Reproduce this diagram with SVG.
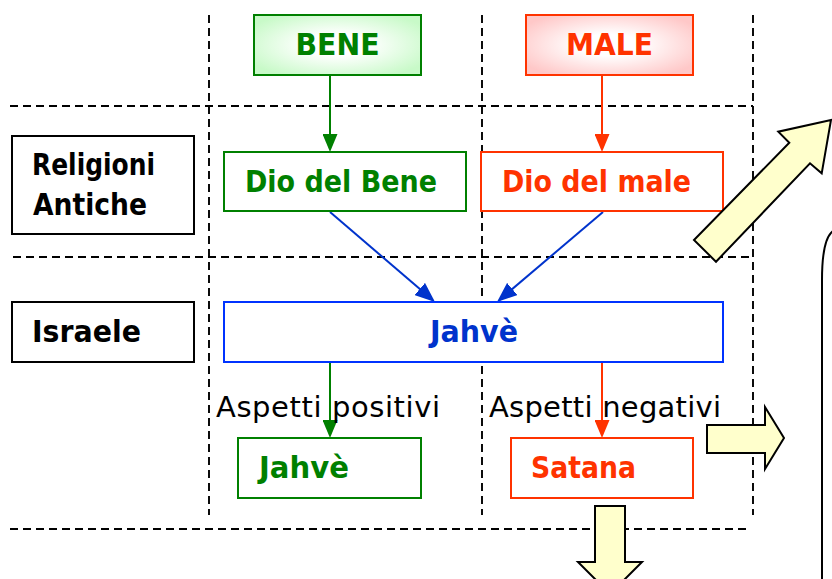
<svg xmlns="http://www.w3.org/2000/svg" width="832" height="579" viewBox="0 0 832 579">
  <style>
    .grid { stroke: #000; stroke-width: 1.9; stroke-dasharray: 8 5; fill: none; }
    .box { fill: #fff; stroke-width: 2; }
    .g { stroke: #008000; }
    .r { stroke: #FF3300; }
    .b { stroke: #0033FF; }
    .k { stroke: #000; }
    .t { font-family: "DejaVu Sans", "Liberation Sans", sans-serif; font-weight: bold; font-size: 30px; }
    .lbl { font-family: "DejaVu Sans", "Liberation Sans", sans-serif; font-size: 29px; fill: #000; }
    .big { fill: #FFFFCC; stroke: #000; stroke-width: 2; stroke-linejoin: miter; }
    .conn { fill: none; stroke-width: 2; }
  </style>
  <defs>
    <radialGradient id="gGreen" cx="50%" cy="50%" r="60%">
      <stop offset="0.3" stop-color="#FFFFFF"/>
      <stop offset="1" stop-color="#C8FAC8"/>
    </radialGradient>
    <radialGradient id="gRed" cx="50%" cy="50%" r="60%">
      <stop offset="0.3" stop-color="#FFFFFF"/>
      <stop offset="1" stop-color="#FFC8C8"/>
    </radialGradient>
    <marker id="mG" markerUnits="userSpaceOnUse" markerWidth="18" markerHeight="15" refX="15" refY="7.5" orient="auto">
      <path d="M0,0 L18,7.5 L0,15 Z" fill="#008000"/>
    </marker>
    <marker id="mR" markerUnits="userSpaceOnUse" markerWidth="18" markerHeight="15" refX="15" refY="7.5" orient="auto">
      <path d="M0,0 L18,7.5 L0,15 Z" fill="#FF3300"/>
    </marker>
    <marker id="mB" markerUnits="userSpaceOnUse" markerWidth="20" markerHeight="16" refX="17" refY="8" orient="auto">
      <path d="M0,0 L20,8 L0,16 Z" fill="#0033CC"/>
    </marker>
  </defs>

  <rect width="832" height="579" fill="#fff"/>

  <g id="grid">
    <line class="grid" x1="209" y1="15" x2="209" y2="515"/>
    <line class="grid" x1="482" y1="15" x2="482" y2="515"/>
    <line class="grid" x1="753" y1="15" x2="753" y2="515"/>
    <line class="grid" x1="10" y1="106" x2="753" y2="106"/>
    <line class="grid" x1="13" y1="257" x2="750" y2="257"/>
    <line class="grid" x1="10" y1="529" x2="750" y2="529"/>
  </g>

  <g id="connectors">
    <line class="conn" stroke="#008000" x1="330" y1="75" x2="330" y2="149" marker-end="url(#mG)"/>
    <line class="conn" stroke="#FF3300" x1="602" y1="75" x2="602" y2="149" marker-end="url(#mR)"/>
    <line class="conn" stroke="#0033CC" x1="330" y1="212" x2="432.7" y2="300" marker-end="url(#mB)"/>
    <line class="conn" stroke="#0033CC" x1="603" y1="212" x2="499.3" y2="300" marker-end="url(#mB)"/>
    <line class="conn" stroke="#008000" x1="330" y1="362" x2="330" y2="435" marker-end="url(#mG)"/>
    <line class="conn" stroke="#FF3300" x1="602" y1="362" x2="602" y2="435" marker-end="url(#mR)"/>
  </g>

  <g id="node-bene">
    <rect x="254" y="15" width="167" height="60" fill="url(#gGreen)" stroke="#008000" stroke-width="2"/>
    <text class="t" x="337.5" y="55" text-anchor="middle" fill="#008000" textLength="84" lengthAdjust="spacingAndGlyphs">BENE</text>
  </g>
  <g id="node-male">
    <rect x="526" y="15" width="167" height="60" fill="url(#gRed)" stroke="#FF3300" stroke-width="2"/>
    <text class="t" x="609.5" y="55" text-anchor="middle" fill="#FF3300" textLength="87" lengthAdjust="spacingAndGlyphs">MALE</text>
  </g>

  <g id="node-religioni">
    <rect class="box k" x="12" y="136" width="182" height="98"/>
    <text class="t" x="32" y="175" fill="#000" textLength="123" lengthAdjust="spacingAndGlyphs">Religioni</text>
    <text class="t" x="33" y="215" fill="#000" textLength="114" lengthAdjust="spacingAndGlyphs">Antiche</text>
  </g>
  <g id="node-israele">
    <rect class="box k" x="12" y="302" width="182" height="60"/>
    <text class="t" x="32" y="342" fill="#000" textLength="109" lengthAdjust="spacingAndGlyphs">Israele</text>
  </g>

  <g id="node-dio-bene">
    <rect class="box g" x="224" y="152" width="242" height="59"/>
    <text class="t" x="245" y="192" fill="#008000" textLength="192" lengthAdjust="spacingAndGlyphs">Dio del Bene</text>
  </g>
  <g id="node-dio-male">
    <rect class="box r" x="481" y="152" width="242" height="59"/>
    <text class="t" x="502" y="192" fill="#FF3300" textLength="189" lengthAdjust="spacingAndGlyphs">Dio del male</text>
  </g>

  <g id="node-jahve">
    <rect class="box b" x="224" y="302" width="499" height="60"/>
    <text class="t" x="474" y="342" text-anchor="middle" fill="#0033CC" textLength="88" lengthAdjust="spacingAndGlyphs">Jahvè</text>
  </g>

  <g id="label-positivi">
    <text class="lbl" x="216" y="417" textLength="224">Aspetti positivi</text>
  </g>
  <g id="label-negativi">
    <text class="lbl" x="489" y="417" textLength="232">Aspetti negativi</text>
  </g>

  <g id="node-jahve-pos">
    <rect class="box g" x="238" y="438" width="183" height="60"/>
    <text class="t" x="259" y="478" fill="#008000" textLength="90" lengthAdjust="spacingAndGlyphs">Jahvè</text>
  </g>
  <g id="node-satana">
    <rect class="box r" x="511" y="438" width="182" height="60"/>
    <text class="t" x="531" y="478" fill="#FF3300" textLength="105" lengthAdjust="spacingAndGlyphs">Satana</text>
  </g>

  <g id="block-arrows">
    <path id="arrow-up-right" class="big" d="M694,240 L789.3,142.7 L778.3,131.7 L831,120 L821.7,173.3 L810,163.3 L716,261.7 Z"/>
    <path id="arrow-right" class="big" d="M707,425 L765,425 L765,407 L784,438 L765,469 L765,453 L707,453 Z"/>
    <path id="arrow-down" class="big" d="M595,506 L625,506 L625,562 L642,562 L610,594 L578,562 L595,562 Z"/>
  </g>

  <g id="node-right-panel">
    <path d="M833,231 C826,236 822,250 822,280 L822,580" fill="none" stroke="#000" stroke-width="2"/>
  </g>
</svg>
